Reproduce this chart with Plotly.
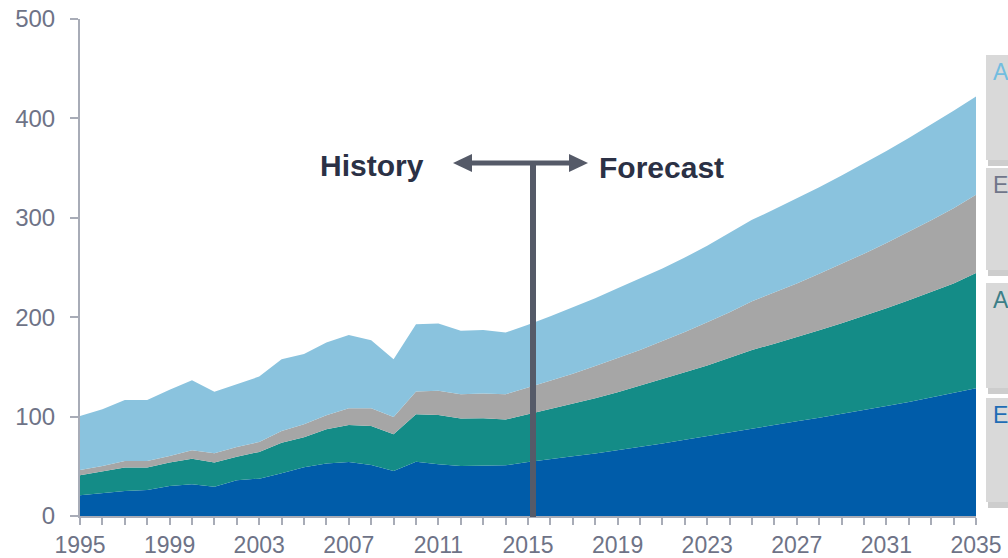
import plotly.graph_objects as go

# years on the x axis
years = list(range(1995, 2036))

# cumulative top of each band (bottom band first)
blue_top = [20.8, 22.8, 25.2, 26.2, 30.2, 31.9, 29.5, 35.9, 37.6, 43.0,
            49.0, 52.7, 54.4, 51.4, 45.3, 54.7, 52.0, 50.4, 50.4, 51.0,
            54.4, 57.0, 60.0, 63.0, 66.2, 69.5, 73.0, 76.6, 80.4, 84.3,
            88.3, 91.7, 95.2, 98.8, 102.6, 106.5, 110.6, 114.8, 119.2, 123.8, 128.6]
teal_top = [41.0, 45.0, 48.7, 48.7, 53.7, 57.7, 53.7, 59.7, 64.5, 73.8,
            79.2, 87.3, 91.6, 90.6, 82.2, 102.4, 101.7, 98.0, 98.3, 97.0,
            102.4, 107.5, 113.0, 118.5, 124.5, 131.0, 137.5, 144.5, 151.5, 159.0,
            167.0, 173.4, 180.0, 186.9, 194.0, 201.4, 209.0, 217.0, 225.3, 233.9, 244.4]
gray_top = [46.3, 50.3, 55.4, 55.4, 60.4, 66.2, 63.1, 69.5, 74.5, 85.6,
            92.3, 101.4, 108.4, 108.4, 99.7, 125.2, 125.9, 122.5, 123.2, 122.5,
            129.2, 136.0, 143.0, 151.0, 159.0, 167.0, 176.0, 185.0, 195.0, 205.0,
            216.0, 224.8, 234.0, 243.6, 253.5, 263.9, 274.7, 285.9, 297.6, 309.7, 323.3]
total_top = [100.7, 107.4, 116.8, 116.8, 126.9, 136.6, 124.9, 132.6, 140.3, 157.8,
             163.0, 174.6, 182.0, 176.9, 157.8, 193.0, 193.7, 186.3, 187.0, 184.6,
             192.3, 201.0, 210.0, 219.0, 229.0, 239.0, 249.0, 260.0, 272.0, 285.0,
             298.0, 308.5, 319.5, 330.8, 342.5, 354.6, 367.2, 380.2, 393.6, 407.6, 422.0]

band_tops = [blue_top, teal_top, gray_top, total_top]
band_colors = ["#005CA9", "#148C87", "#A6A6A6", "#8AC3DE"]
side_letters = ["A", "E", "A", "E"]
letter_colors = ["#72BDE0", "#70768A", "#3C7F88", "#1F6DB5"]

AXIS = "#A8ACB7"
TICKFONT = "#6E7387"
DARK = "#2B3145"
ARROW = "#555A68"
FONT = "Liberation Sans, Arial, sans-serif"

fig = go.Figure()
for i, (top, col) in enumerate(zip(band_tops, band_colors)):
    fig.add_trace(go.Scatter(
        x=years, y=top, mode="lines",
        line=dict(width=0, color=col),
        fill="tozeroy" if i == 0 else "tonexty",
        fillcolor=col, showlegend=False, hoverinfo="skip"
    ))


# screen pixel -> paper helpers for the decorations
def px(x):
    return (x - 80) / 896


def py(y):
    return (516 - y) / 497


shapes = []
# history / forecast marker
shapes.append(dict(type="line", xref="paper", yref="paper",
                   x0=px(533), x1=px(533), y0=py(163), y1=py(517),
                   line=dict(color=ARROW, width=6)))
shapes.append(dict(type="line", xref="paper", yref="paper",
                   x0=px(468), x1=px(572), y0=py(163), y1=py(163),
                   line=dict(color=ARROW, width=5)))
for tip, base in [(453, 472), (588, 569)]:
    shapes.append(dict(type="path", xref="paper", yref="paper",
                       path=f"M {px(tip)} {py(163)} L {px(base)} {py(154)} L {px(base)} {py(172)} Z",
                       fillcolor=ARROW, line=dict(width=0)))

# clipped side boxes
boxes = [(55, 160), (168, 270), (283, 388), (398, 502)]
annotations = []
for (top, bot), letter, lc in zip(boxes, side_letters, letter_colors):
    shapes.append(dict(type="rect", xref="paper", yref="paper",
                       x0=px(988), x1=px(1012), y0=py(bot + 6), y1=py(top + 4),
                       fillcolor="#B8B8B8", line=dict(width=0), opacity=0.7))
    shapes.append(dict(type="rect", xref="paper", yref="paper",
                       x0=px(986), x1=px(1012), y0=py(bot), y1=py(top),
                       fillcolor="#D9D9D9", line=dict(width=0)))
    annotations.append(dict(xref="paper", yref="paper", x=px(991), y=py(top + 2),
                            text=letter, showarrow=False, xanchor="left", yanchor="top",
                            font=dict(size=23, color=lc, family=FONT)))

annotations.append(dict(xref="paper", yref="paper", x=px(372), y=py(165),
                        text="<b>History</b>", showarrow=False,
                        xanchor="center", yanchor="middle",
                        font=dict(size=30, color=DARK, family=FONT)))
annotations.append(dict(xref="paper", yref="paper", x=px(661), y=py(168),
                        text="<b>Forecast</b>", showarrow=False,
                        xanchor="center", yanchor="middle",
                        font=dict(size=30, color=DARK, family=FONT)))

fig.update_layout(
    width=1008, height=558,
    margin=dict(l=80, r=32, t=19, b=42, autoexpand=False),
    paper_bgcolor="white", plot_bgcolor="white",
    font=dict(family=FONT, size=22, color=TICKFONT),
    shapes=shapes, annotations=annotations,
    xaxis=dict(
        range=[1995, 2035], tick0=1995, dtick=4, showgrid=False, zeroline=False,
        showline=True, linecolor=AXIS, linewidth=2, automargin=False,
        ticks="outside", ticklen=7, tickwidth=1.5, tickcolor=AXIS,
        minor=dict(dtick=1, tick0=1995, ticks="outside", ticklen=7, tickwidth=1.5, tickcolor=AXIS),
        tickfont=dict(size=23, color=TICKFONT)
    ),
    yaxis=dict(
        range=[0, 500], dtick=100, showgrid=False, zeroline=False,
        showline=True, linecolor=AXIS, linewidth=2, automargin=False,
        ticks="outside", ticklen=8, tickwidth=1.5, tickcolor=AXIS,
        ticklabelstandoff=10,
        tickfont=dict(size=24, color=TICKFONT)
    ),
)

# drop the default page margin so the figure sits at the window corner
fig.write_html("out.html", config={"displayModeBar": False},
               post_script="document.body.style.margin='0';")
